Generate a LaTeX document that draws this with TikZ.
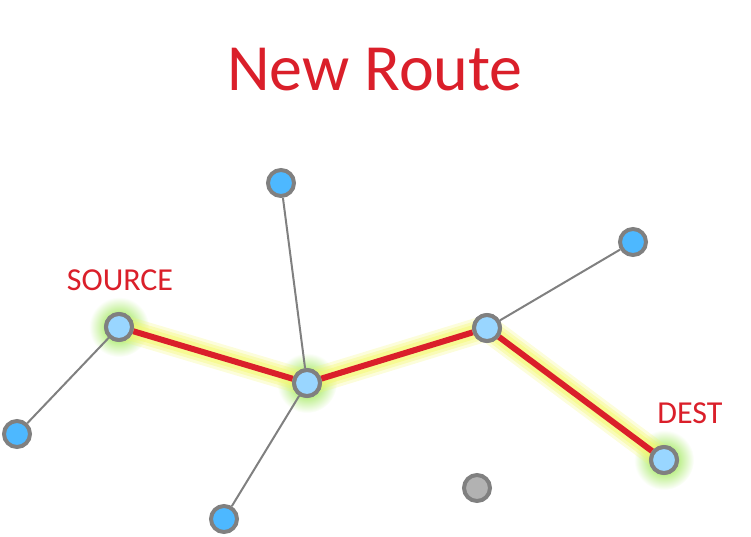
\documentclass[tikz,border=0pt]{standalone}
\usepackage{fontspec}
\setmainfont{Carlito}
\definecolor{routered}{HTML}{DA1F2A}
\definecolor{nodeblue}{HTML}{4DB8FF}
\definecolor{nodelight}{HTML}{99D6FF}
\definecolor{rimgray}{HTML}{808080}
\definecolor{glowgreen}{HTML}{7FE020}
\definecolor{glowyellow}{HTML}{F4F870}
\begin{document}
\begin{tikzpicture}[x=1pt,y=-1pt,
  nd/.style={circle,draw=rimgray,line width=4pt,minimum size=26pt,inner sep=0pt},
  bl/.style={nd,fill=nodeblue},
  lt/.style={nd,fill=nodelight},
  gr/.style={nd,fill=gray!60},
  link/.style={draw=gray,line width=2pt},
  route/.style={draw=routered,line width=6pt},
  lbl/.style={text=routered,font=\fontsize{32}{36}\selectfont}]
\useasboundingbox (0,0) rectangle (751,537);
\node[text=routered,font=\fontsize{66}{70}\selectfont] (title) at (375,70) {New Route};
% glows
\foreach \p in {(119,327),(307,383),(664,460)}{
  \shade[inner color=glowgreen,outer color=white] \p circle (30);
}
\coordinate (ga) at (119,327); \coordinate (gb) at (307,383);
\coordinate (gc) at (487,328); \coordinate (gd) at (664,460);
\foreach \w/\o in {26/0.25,20/0.35,14/0.5}{
  \draw[glowyellow,line width=\w pt,opacity=\o,line cap=round,line join=round] (ga)--(gb)--(gc)--(gd);
}
\node[lt] (src) at (119,327) {};
\node[lt] (mid) at (307,383) {};
\node[lt] (r) at (487,328) {};
\node[lt] (dst) at (664,460) {};
\node[bl] (top) at (281,183) {};
\node[bl] (ur) at (633,242) {};
\node[bl] (ll) at (17,434) {};
\node[bl] (bm) at (224,519) {};
\node[gr] (iso) at (477,488) {};
\begin{scope}[on background layer/.try]
\end{scope}
\draw[link] (src)--(ll);
\draw[link] (mid)--(top);
\draw[link] (mid)--(bm);
\draw[link] (r)--(ur);
\draw[route] (src)--(mid);
\draw[route] (mid)--(r);
\draw[route] (r)--(dst);
\node[lt] at (src) {}; \node[lt] at (mid) {}; \node[lt] at (r) {}; \node[lt] at (dst) {};
\node[lbl] (srcl) at (120,280) {SOURCE};
\node[lbl] (dstl) at (690,413) {DEST};
\end{tikzpicture}
\end{document}
